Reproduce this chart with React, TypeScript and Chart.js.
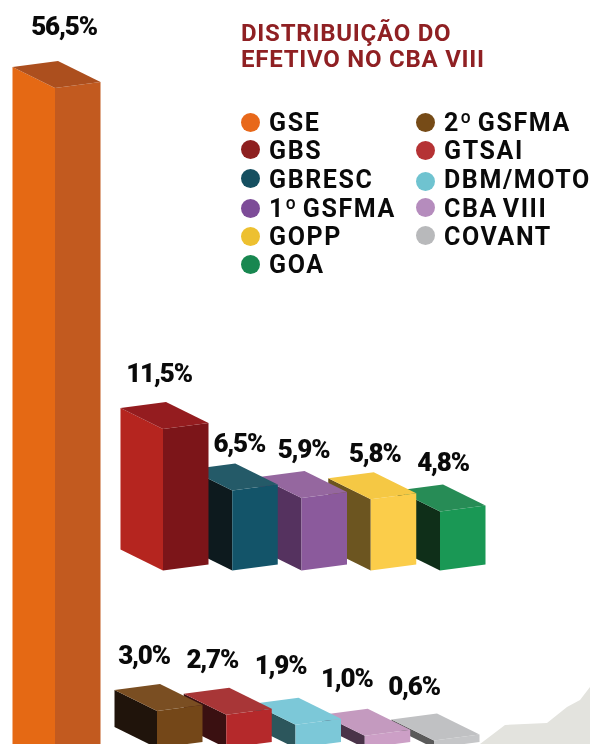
import React, { useEffect, useRef } from "react";
import { Chart, BarController, registerables } from "chart.js";

// ---------- data ----------
const titleLines = ["DISTRIBUIÇÃO DO", "EFETIVO NO CBA VIII"];

const topCategories = ["GSE"];
const topValues = [56.5];
const topColors = ["#e8681a"];

const midCategories = ["GBS", "GBRESC", "1º GSFMA", "GOPP", "GOA"];
const midValues = [11.5, 6.5, 5.9, 5.8, 4.8];
const midColors = ["#8e2020", "#154f60", "#7d4c98", "#edc030", "#188750"];

const lowCategories = ["2º GSFMA", "GTSAI", "DBM/MOTO", "CBA VIII", "COVANT"];
const lowValues = [3.0, 2.7, 1.9, 1.0, 0.6];
const lowColors = ["#764b17", "#b53234", "#6fc3d0", "#b58cbd", "#b8b9bb"];

// ---------- styles & layout ----------
const W = 590;
const VIEW_H = 744;
const CANVAS_H = 800; // the tallest bar runs off the bottom of the picture
const PX_PER_PCT = 12.3;
const PITCH = 69.25;
const X_RANGE = W / PITCH;
const Y_RANGE = CANVAS_H / PX_PER_PCT;

const FONT = "Roboto, sans-serif";

type Faces = { left: string[]; right: string[]; top: string[] };

const topFaces: Faces = { left: ["#e56914"], right: ["#c25a1f"], top: ["#ac4f1e"] };
const midFaces: Faces = {
  left: ["#b5251f", "#0d1a1e", "#55325f", "#6c5520", "#0f2f19"],
  right: ["#7c1519", "#135469", "#8b5a9c", "#fbcd4a", "#1a9855"],
  top: ["#941c1f", "#245a68", "#95679f", "#f5c844", "#278c56"],
};
const lowFaces: Faces = {
  left: ["#20140b", "#3a1011", "#2c565c", "#4a3349", "#5a5a5a"],
  right: ["#744718", "#b5292b", "#7cc8d8", "#cc9fc6", "#c5c6c8"],
  top: ["#7a4e22", "#a83637", "#7cc8d8", "#c49abf", "#c0c1c3"],
};

// box projection, measured from the front edge of a bar
const LEFT_DX = -42.5;
const LEFT_DY = -21;
const RIGHT_DX = 45.5;
const RIGHT_DY = -6;

const topLabelOffsets = [[9, -60]];
const midLabelOffsets = [[-4, -54], [7, -45], [2, -46], [4, -44], [3, -47]];
const lowLabelOffsets = [[-13, -54], [-14, -53], [-15, -57], [-18, -55], [-20, -52]];

const legendCol1 = [123, 151, 180, 209, 237, 265];
const legendCol2 = [123, 151, 180, 209, 237];
const dotCol1 = [122, 149, 178, 208, 236, 264];
const dotCol2 = [122, 150, 181, 207, 235];

// ---------- 3D bar controller ----------
function poly(ctx: CanvasRenderingContext2D, pts: number[][], color: string) {
  ctx.beginPath();
  pts.forEach((p, i) => (i ? ctx.lineTo(p[0], p[1]) : ctx.moveTo(p[0], p[1])));
  ctx.closePath();
  ctx.fillStyle = color;
  ctx.fill();
}

class Bar3DController extends BarController {
  // each row has its own x axis, so a bar sits exactly on its scale pixel
  _calculateBarIndexPixels(index: number, ruler: any) {
    const center = ruler.pixels[index];
    return { base: center - 20, head: center + 20, center, size: 40 };
  }
  draw() {
    const ctx = this.chart.ctx;
    const ds: any = this.getDataset();
    const els: any[] = this._cachedMeta.data as any[];
    // painted right to left: each box hides part of its right-hand neighbour
    for (let i = els.length - 1; i >= 0; i--) {
      const { x, y, base } = els[i];
      const h = base - y;
      const lx = x + LEFT_DX;
      const rx = x + RIGHT_DX;
      const ly = y + LEFT_DY;
      const ry = y + RIGHT_DY;
      poly(ctx, [[lx, ly], [x, y], [x, y + h], [lx, ly + h]], ds.faces.left[i]);
      poly(ctx, [[x, y], [rx, ry], [rx, ry + h], [x, y + h]], ds.faces.right[i]);
      poly(ctx, [[lx, ly], [x + LEFT_DX + RIGHT_DX, y + LEFT_DY + RIGHT_DY], [rx, ry], [x, y]], ds.faces.top[i]);
    }
  }
}
(Bar3DController as any).id = "bar3d";
(Bar3DController as any).defaults = (BarController as any).defaults;
(Bar3DController as any).overrides = (BarController as any).overrides;

Chart.register(...registerables, Bar3DController as any);

const valueLabels = {
  id: "valueLabels",
  afterDatasetsDraw(chart: any) {
    const ctx = chart.ctx;
    ctx.save();
    ctx.font = `900 26px ${FONT}`;
    (ctx as any).letterSpacing = "-1.2px";
    ctx.fillStyle = "#0a0a0a";
    ctx.textAlign = "center";
    ctx.textBaseline = "middle";
    chart.data.datasets.forEach((ds: any, d: number) => {
      chart.getDatasetMeta(d).data.forEach((el: any, i: number) => {
        const text = ds.data[i].y.toFixed(1).replace(".", ",") + "%";
        const [ox, oy] = ds.labelOffsets[i];
        ctx.fillText(text, el.x + ox, el.y + oy);
      });
    });
    ctx.restore();
  },
};

const points = (vals: number[]) => vals.map((v, i) => ({ x: i, y: v }));

function xAxis(firstPx: number) {
  const min = -firstPx / PITCH;
  return { type: "linear" as const, display: false, offset: false, min, max: min + X_RANGE };
}
function yAxis(baselinePx: number) {
  const min = (baselinePx - CANVAS_H) / PX_PER_PCT;
  return { type: "linear" as const, display: false, min, max: min + Y_RANGE };
}

function LegendItem({ label, color, x, y, dotY }: { label: string; color: string; x: number; y: number; dotY: number }) {
  return (
    <div style={{ position: "absolute", left: x, top: y - 15, height: 30, lineHeight: "30px", whiteSpace: "nowrap" }}>
      <span
        style={{
          position: "absolute",
          left: -28.5,
          top: dotY - y + 5.5,
          width: 19,
          height: 19,
          borderRadius: "50%",
          background: color,
        }}
      />
      <span>{label}</span>
    </div>
  );
}

export default function App() {
  const ref = useRef<HTMLCanvasElement>(null);

  useEffect(() => {
    const chart = new Chart(ref.current as HTMLCanvasElement, {
      type: "bar3d" as any,
      data: {
        datasets: [
          {
            label: "GSE",
            data: points(topValues),
            categories: topCategories,
            backgroundColor: topColors,
            faces: topFaces,
            labelOffsets: topLabelOffsets,
            xAxisID: "xTop",
            yAxisID: "yTop",
            grouped: false,
            clip: false,
          },
          {
            label: "Médios",
            data: points(midValues),
            categories: midCategories,
            backgroundColor: midColors,
            faces: midFaces,
            labelOffsets: midLabelOffsets,
            xAxisID: "xMid",
            yAxisID: "yMid",
            grouped: false,
            clip: false,
          },
          {
            label: "Menores",
            data: points(lowValues),
            categories: lowCategories,
            backgroundColor: lowColors,
            faces: lowFaces,
            labelOffsets: lowLabelOffsets,
            xAxisID: "xLow",
            yAxisID: "yLow",
            grouped: false,
            clip: false,
          },
        ] as any,
      },
      options: {
        responsive: false,
        animation: false,
        events: [],
        layout: { padding: 0 },
        plugins: { legend: { display: false }, tooltip: { enabled: false } },
        scales: {
          xTop: xAxis(55),
          yTop: yAxis(783),
          xMid: xAxis(163),
          yMid: yAxis(570.5),
          xLow: xAxis(157),
          yLow: yAxis(748),
        },
      } as any,
      plugins: [valueLabels],
    });
    return () => chart.destroy();
  }, []);

  return (
    <div
      style={{
        position: "absolute",
        left: 0,
        top: 0,
        width: W,
        height: VIEW_H,
        overflow: "hidden",
        background: "#ffffff",
        fontFamily: FONT,
      }}
    >
      <svg width={W} height={VIEW_H} style={{ position: "absolute", left: 0, top: 0 }}>
        <polygon points="480,744 505,725 547,723 567,707 580,700 590,687 590,744" fill="#e3e3de" />
      </svg>
      <canvas
        ref={ref}
        width={W}
        height={CANVAS_H}
        style={{ position: "absolute", left: 0, top: 0, display: "block" }}
      />
      <div
        style={{
          position: "absolute",
          left: 241,
          top: 21,
          color: "#8f2023",
          fontWeight: 700,
          fontSize: 24,
          lineHeight: "25.5px",
          letterSpacing: "0.75px",
          whiteSpace: "nowrap",
        }}
      >
        {titleLines.map((t) => (
          <div key={t}>{t}</div>
        ))}
      </div>
      <div style={{ color: "#0a0a0a", fontWeight: 700, fontSize: 25, letterSpacing: "1.6px", wordSpacing: "-3px" }}>
        {[...topCategories, ...midCategories].map((c, i) => (
          <LegendItem key={c} label={c} color={[...topColors, ...midColors][i]} x={269} y={legendCol1[i]} dotY={dotCol1[i]} />
        ))}
        {lowCategories.map((c, i) => (
          <LegendItem key={c} label={c} color={lowColors[i]} x={444} y={legendCol2[i]} dotY={dotCol2[i]} />
        ))}
      </div>
    </div>
  );
}
